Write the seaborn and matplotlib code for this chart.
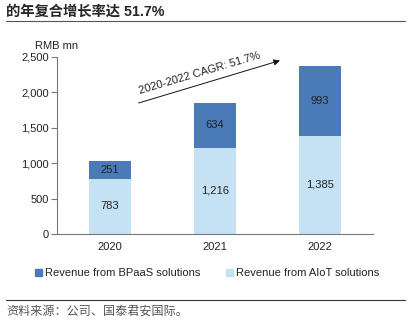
import numpy as np
import pandas as pd
import matplotlib
matplotlib.use("Agg")
import matplotlib.pyplot as plt
from matplotlib.patches import Patch
from matplotlib.lines import Line2D
import seaborn as sns

years = ["2020", "2021", "2022"]
bpaas = [251, 634, 993]
aiot = [783, 1216, 1385]
yticks = [0, 500, 1000, 1500, 2000, 2500]
title = "的年复合增长率达 51.7%"
source = "资料来源：公司、国泰君安国际。"
cagr_text = "2020-2022 CAGR: 51.7%"
legend_labels = ["Revenue from BPaaS solutions", "Revenue from AIoT solutions"]

sns.set_style("white")
plt.rcParams["font.family"] = ["Liberation Sans", "Noto Sans CJK SC", "DejaVu Sans"]

dark = "#4a7ab8"
light = "#c5e1f4"

df = pd.DataFrame({"year": years, "bpaas": bpaas, "aiot": aiot})
df["total"] = df["bpaas"] + df["aiot"]

fig = plt.figure(figsize=(4.11, 3.22), dpi=100)
ax = fig.add_axes([57/411, 1-234/322, (372.5-57)/411, (234-57)/322])

sns.barplot(data=df, x="year", y="total", color=dark, width=0.4, ax=ax,
            saturation=1, edgecolor="none")
sns.barplot(data=df, x="year", y="aiot", color=light, width=0.4, ax=ax,
            saturation=1, edgecolor="none")

for i, (b, a) in enumerate(zip(bpaas, aiot)):
    ax.text(i, a / 2, f"{a:,}", ha="center", va="center", fontsize=8, color="#222222")
    ax.text(i, a + b / 2, f"{b:,}", ha="center", va="center", fontsize=8, color="#222222")

ax.set_xlim(-0.5, 2.5)
ax.set_ylim(0, 2500)
ax.set_yticks(yticks)
ax.set_yticklabels([f"{v:,}" for v in yticks], fontsize=8, color="#222222")
ax.set_xticks(range(len(years)))
ax.set_xticklabels(years, fontsize=8, color="#222222")
ax.set_xticks([0.5, 1.5, 2.5], minor=True)
ax.tick_params(axis="x", which="major", length=0, pad=6)
ax.tick_params(axis="x", which="minor", length=4, direction="out", color="#777777", width=0.8)
ax.tick_params(axis="y", which="major", length=4, direction="out", color="#777777", width=0.8, left=True, pad=2)
ax.set_xlabel("")
ax.set_ylabel("")
for s in ["top", "right"]:
    ax.spines[s].set_visible(False)
for s in ["left", "bottom"]:
    ax.spines[s].set_color("#777777")
    ax.spines[s].set_linewidth(0.8)

# CAGR arrow
ax.annotate("", xy=(1.62, 2450), xytext=(0.276, 1850),
            arrowprops=dict(arrowstyle="-|>", color="#111111", lw=0.7,
                            mutation_scale=9, shrinkA=0, shrinkB=0))
ax.text(0.857, 2265, cagr_text, rotation=16.5, rotation_mode="anchor",
        ha="center", va="center", fontsize=8, color="#222222")

fig.text(35/411, 1-46/322, "RMB mn", fontsize=8, color="#222222", va="center", ha="left")

# title and rules
fig.text(6/411, 1-12/322, title, fontsize=10.3, fontweight="bold", va="center", ha="left",
         family=["Liberation Sans", "Noto Sans CJK SC"])
fig.add_artist(Line2D([6/411, 405/411], [1-21/322, 1-21/322], color="#555555", lw=0.8))
fig.add_artist(Line2D([6/411, 405/411], [1-300/322, 1-300/322], color="#333333", lw=0.8))
fig.text(6/411, 1-311/322, source, fontsize=8.7, style="italic", color="#555555",
         va="center", ha="left", family=["Noto Sans CJK SC", "DejaVu Sans"])

handles = [Patch(color=dark), Patch(color=light)]
fig.legend(handles, legend_labels, loc="center", bbox_to_anchor=(0.505, 1-273/322),
           ncol=2, frameon=False, fontsize=8, handlelength=0.6, handleheight=0.6,
           handletextpad=0.3, columnspacing=2.3, labelcolor="#222222")

fig.savefig("out.png", dpi=100)
